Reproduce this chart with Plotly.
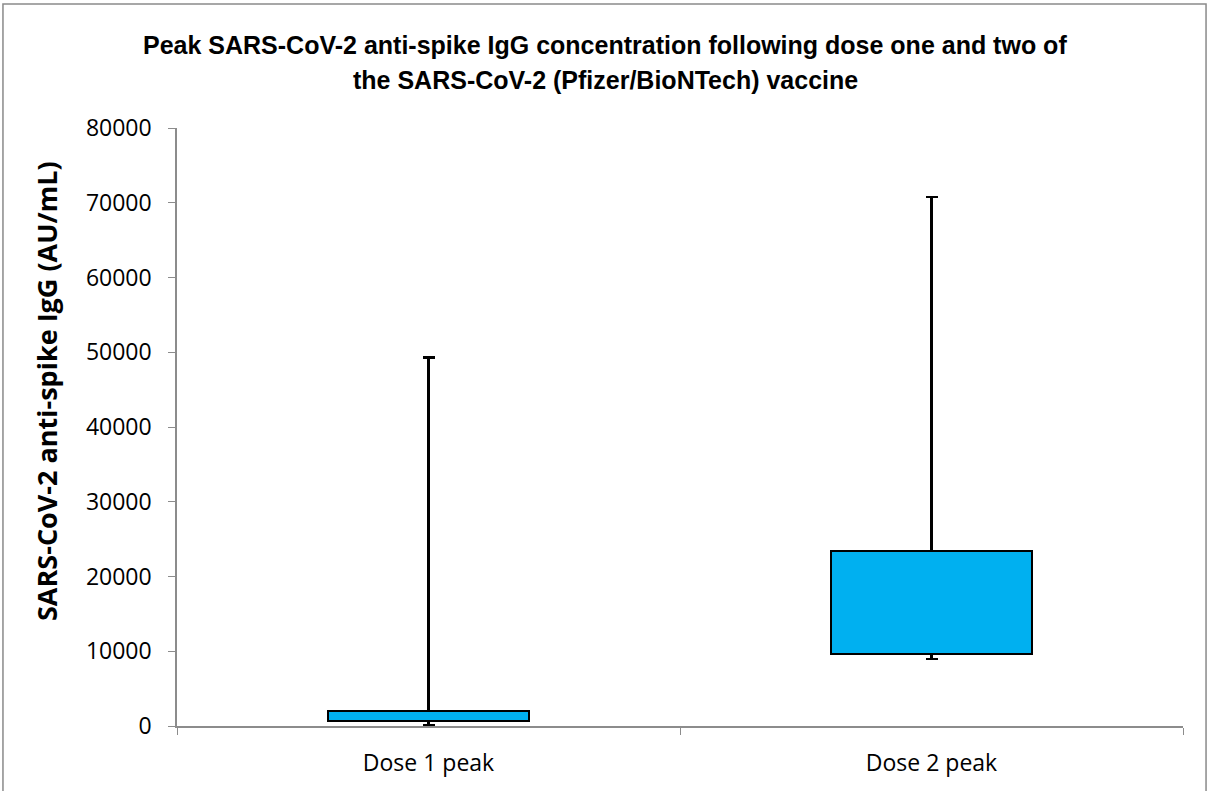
import plotly.graph_objects as go

# Five-number summaries of peak anti-spike IgG (AU/mL)
categories = ["Dose 1 peak", "Dose 2 peak"]
minimum = [150, 8950]
q1 = [710, 9650]
q3 = [2040, 23400]
maximum = [49300, 70800]

title_lines = [
    "Peak SARS-CoV-2 anti-spike IgG concentration following dose one and two of",
    "the SARS-CoV-2 (Pfizer/BioNTech) vaccine",
]
y_title = "SARS-CoV-2 anti-spike IgG (AU/mL)"

# derived stack heights and whisker lengths
box_height = [b - a for a, b in zip(q1, q3)]
lower_whisker = [a - m for a, m in zip(q1, minimum)]
upper_whisker = [m - b for b, m in zip(q3, maximum)]

FONT = "Open Sans"
TITLE_FONT = "Liberation Sans"
fig = go.Figure()

# invisible base bar carries the lower whisker
fig.add_trace(go.Bar(
    x=categories, y=q1,
    marker=dict(color="rgba(0,0,0,0)", line=dict(width=0)),
    error_y=dict(type="data", symmetric=False, array=[0, 0], arrayminus=lower_whisker,
                 color="black", thickness=2.2, width=6),
    hoverinfo="skip", showlegend=False,
))
# interquartile box carries the upper whisker
fig.add_trace(go.Bar(
    x=categories, y=box_height,
    marker=dict(color="#00B0F0", line=dict(color="black", width=2.2)),
    error_y=dict(type="data", symmetric=False, array=upper_whisker, arrayminus=[0, 0],
                 color="black", thickness=2.2, width=6),
    showlegend=False,
))

fig.update_layout(
    barmode="stack",
    bargap=0.6,
    width=1210, height=791,
    margin=dict(l=177, r=27, t=128, b=65),
    paper_bgcolor="white", plot_bgcolor="white",
    xaxis=dict(
        showline=True, linecolor="#8c8c8c", linewidth=1.5,
        ticks="outside", tickson="boundaries", ticklen=7, tickcolor="#8c8c8c",
        ticklabelstandoff=16,
        tickfont=dict(family=FONT, size=23, color="black"),
    ),
    yaxis=dict(
        range=[0, 80000], dtick=10000, tickformat="d",
        showline=True, linecolor="#8c8c8c", linewidth=1.5,
        ticks="outside", ticklen=7, tickcolor="#8c8c8c",
        showgrid=False, zeroline=False,
        ticklabelstandoff=12,
        tickfont=dict(family=FONT, size=23, color="black"),
    ),
)

# chart title, one annotation per line
for text, ypx in zip(title_lines, [45, 80]):
    fig.add_annotation(
        text=text, xref="paper", yref="paper",
        x=(605 - 177) / 1006, y=(726 - ypx) / 598,
        xanchor="center", yanchor="middle", showarrow=False,
        font=dict(family=TITLE_FONT, size=25, color="black", weight="bold"),
    )

# rotated value-axis title
fig.add_annotation(
    text=y_title, xref="paper", yref="paper",
    x=(46 - 177) / 1006, y=(726 - 391) / 598,
    xanchor="center", yanchor="middle", textangle=-90, showarrow=False,
    font=dict(family=FONT, size=27, color="black", weight="bold"),
)

# chart frame
fig.add_shape(type="rect", xref="paper", yref="paper",
              x0=-0.173, x1=1.0229, y0=-0.12, y1=1.2074,
              line=dict(color="#8a8a8a", width=1.5), fillcolor="rgba(0,0,0,0)", layer="below")

fig.write_html("out.html")
